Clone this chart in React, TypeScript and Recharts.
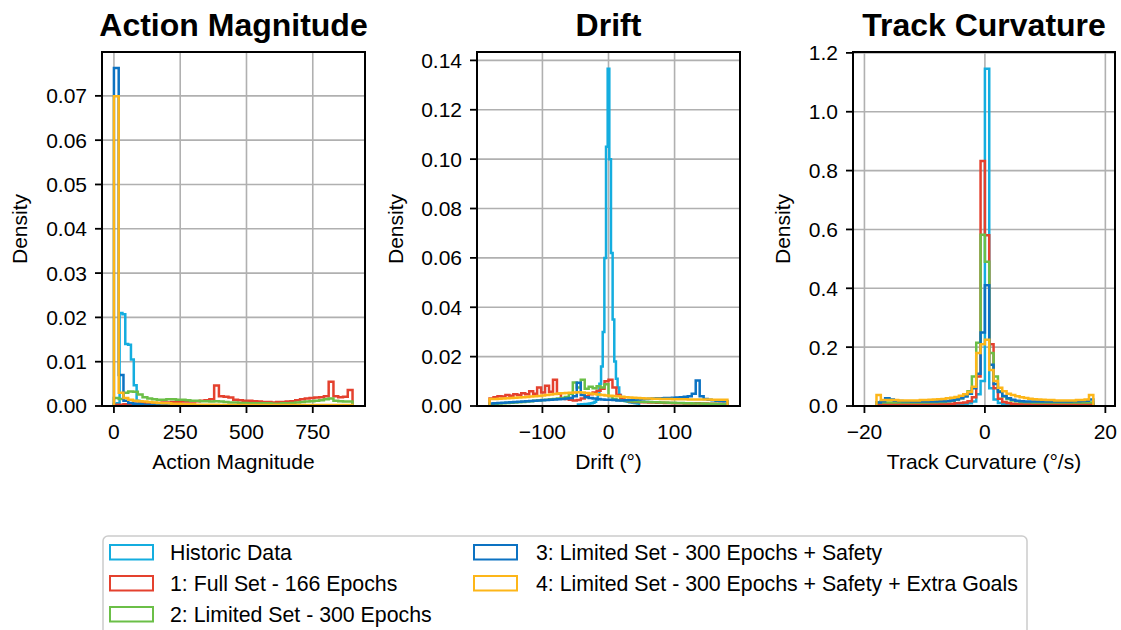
import { LineChart, Line, XAxis, YAxis, CartesianGrid } from "recharts";

const FONT = '"Liberation Sans", Arial, Helvetica, sans-serif';

const seriesNames = [
  "Historic Data",
  "1: Full Set - 166 Epochs",
  "2: Limited Set - 300 Epochs",
  "3: Limited Set - 300 Epochs + Safety",
  "4: Limited Set - 300 Epochs + Safety + Extra Goals",
];
const seriesColors = ["#14ADDF", "#E4412E", "#6BBF47", "#0C72C2", "#FDB619"];

// ---- Action Magnitude (density histograms) ----
const magHistoricStart = 0;
const magHistoricWidth = 10.7;
const magHistoric = [0.0004, 0.0006, 0.021, 0.0207, 0.014, 0.0138, 0.0105, 0.0047, 0.0012, 0.0006, 0.0004, 0.0003, 0.0002, 0.0002, 0.0001, 0.0001];

const magBinStart = 0;
const magBinWidth = 18;
const magFullSet = [
  0.0003, 0.0003, 0.0004, 0.0004, 0.0005, 0.0005, 0.0006, 0.0006, 0.0007, 0.0007,
  0.0008, 0.0008, 0.0009, 0.0009, 0.001, 0.001, 0.001, 0.0011, 0.0012, 0.0013,
  0.0015, 0.0046, 0.0022, 0.0021, 0.0019, 0.0014, 0.0013, 0.0012, 0.0012, 0.0011,
  0.001, 0.0009, 0.0009, 0.0008, 0.0009, 0.0009, 0.001, 0.0011, 0.0013, 0.0015,
  0.0017, 0.0018, 0.0019, 0.002, 0.0022, 0.0055, 0.0022, 0.002, 0.0021, 0.0036,
];
const magLimited = [
  0.0018, 0.0016, 0.003, 0.0033, 0.0032, 0.0026, 0.002, 0.0017, 0.0015, 0.0014,
  0.0014, 0.0015, 0.0015, 0.0014, 0.0014, 0.0013, 0.0012, 0.0012, 0.0011, 0.0011,
  0.001, 0.0011, 0.001, 0.0009, 0.0008, 0.0008, 0.0007, 0.0007, 0.0006, 0.0006,
  0.0006, 0.0006, 0.0006, 0.0005, 0.0005, 0.0006, 0.0006, 0.0007, 0.0008, 0.0009,
  0.001, 0.0011, 0.0012, 0.0013, 0.0015, 0.0017, 0.0012, 0.0011, 0.001, 0.001,
];
const magSafety = [
  0.0763, 0.007, 0.0012, 0.0007, 0.0005, 0.0004, 0.0003, 0.0003, 0.0002, 0.0002,
  0.0002, 0.0001, 0.0001, 0.0001, 0.0001, 0.0001, 0.0001, 0.0001, 0.0001, 0.0001,
  0.0001, 0.0001, 0.0001, 0.0001, 0.0001, 0.0001, 0.0001, 0.0001, 0.0001, 0.0001,
  0.0001, 0.0001, 0.0001, 0.0001, 0.0001, 0.0001, 0.0001, 0.0001, 0.0001, 0.0001,
  0.0001, 0.0001, 0.0001, 0.0001, 0.0001, 0.0001, 0.0001, 0.0001, 0.0001, 0.0001,
];
const magExtraGoals = [
  0.0699, 0.003, 0.0018, 0.0014, 0.0012, 0.0011, 0.001, 0.0009, 0.0008, 0.0007,
  0.0006, 0.0006, 0.0005, 0.0005, 0.0004, 0.0004, 0.0004, 0.0003, 0.0003, 0.0003,
  0.0003, 0.0003, 0.0002, 0.0002, 0.0002, 0.0002, 0.0002, 0.0002, 0.0002, 0.0002,
  0.0002, 0.0002, 0.0002, 0.0002, 0.0002, 0.0002, 0.0002, 0.0002, 0.0002, 0.0002,
  0.0002, 0.0002, 0.0002, 0.0002, 0.0002, 0.0002, 0.0002, 0.0002, 0.0002, 0.0002,
];

// ---- Drift ----
const driftHistoricStart = -46.25;
const driftHistoricWidth = 2.5;
const driftHistoric = [
  0.0006, 0.0006, 0.0007, 0.0007, 0.0008, 0.0008, 0.0009, 0.001, 0.0011, 0.0013,
  0.0017, 0.0025, 0.0045, 0.009, 0.016, 0.03, 0.06, 0.105, 0.1366, 0.1,
  0.062, 0.035, 0.018, 0.011, 0.0075, 0.0045, 0.0032, 0.0026, 0.0022, 0.0019,
  0.0017, 0.0015, 0.0014, 0.0013, 0.0012, 0.0011, 0.001,
];

const driftBinStart = -180;
const driftBinWidth = 6;
const driftFullSet = [
  0.003, 0.0035, 0.004, 0.0038, 0.0045, 0.0042, 0.0048, 0.0045, 0.0052, 0.0048,
  0.006, 0.005, 0.0075, 0.0055, 0.0082, 0.0058, 0.0106, 0.005, 0.003, 0.0028,
  0.0025, 0.0022, 0.0024, 0.003, 0.004, 0.0048, 0.0055, 0.0062, 0.007, 0.01,
  0.0106, 0.0075, 0.0045, 0.003, 0.0022, 0.0018, 0.0016, 0.0016, 0.0015, 0.0015,
  0.0014, 0.0014, 0.0013, 0.0013, 0.0012, 0.0012, 0.0011, 0.0011, 0.0011, 0.001,
  0.001, 0.001, 0.0011, 0.001, 0.001, 0.0009, 0.0009, 0.0009, 0.0009, 0.0008,
];
const driftLimited = [
  0.0008, 0.0009, 0.001, 0.0011, 0.0012, 0.0013, 0.0014, 0.0015, 0.0016, 0.0018,
  0.0019, 0.0021, 0.0022, 0.0024, 0.0025, 0.0027, 0.0028, 0.003, 0.0032, 0.0036,
  0.005, 0.0095, 0.0075, 0.0106, 0.007, 0.0078, 0.0072, 0.008, 0.0075, 0.0088,
  0.004, 0.0028, 0.0024, 0.0022, 0.002, 0.0019, 0.0018, 0.0018, 0.0017, 0.0016,
  0.0016, 0.0015, 0.0015, 0.0014, 0.0014, 0.0013, 0.0013, 0.0012, 0.0012, 0.0011,
  0.0011, 0.001, 0.001, 0.001, 0.0009, 0.0009, 0.0009, 0.0008, 0.0008, 0.0008,
];
const driftSafety = [
  0.001, 0.0011, 0.0012, 0.0013, 0.0014, 0.0015, 0.0016, 0.0017, 0.0018, 0.0019,
  0.002, 0.0021, 0.0022, 0.0023, 0.0024, 0.0025, 0.0026, 0.0027, 0.0028, 0.003,
  0.0032, 0.004, 0.0094, 0.0045, 0.0035, 0.0032, 0.003, 0.0028, 0.0026, 0.0025,
  0.0025, 0.0024, 0.0022, 0.0022, 0.0023, 0.0024, 0.0025, 0.0026, 0.0027, 0.0028,
  0.0029, 0.003, 0.0031, 0.0031, 0.0032, 0.0032, 0.0033, 0.0034, 0.0035, 0.0037,
  0.004, 0.005, 0.0103, 0.004, 0.0028, 0.0025, 0.0023, 0.0021, 0.002, 0.0019,
];
const driftExtraGoals = [
  0.0028, 0.0028, 0.0029, 0.003, 0.0031, 0.0032, 0.0033, 0.0034, 0.0035, 0.0036,
  0.0038, 0.0039, 0.0041, 0.0043, 0.0045, 0.0047, 0.0049, 0.0051, 0.0052, 0.0053,
  0.0054, 0.0055, 0.0056, 0.0055, 0.0053, 0.0051, 0.0049, 0.0047, 0.0045, 0.0043,
  0.0042, 0.0041, 0.0039, 0.0037, 0.0035, 0.0034, 0.0033, 0.0032, 0.0031, 0.003,
  0.003, 0.0029, 0.0029, 0.0028, 0.0028, 0.0028, 0.0027, 0.0027, 0.0027, 0.0027,
  0.0026, 0.0026, 0.0026, 0.0026, 0.0026, 0.0026, 0.0025, 0.0025, 0.0025, 0.0025,
];

// ---- Track Curvature ----
const curvBinStart = -18;
const curvBinWidth = 0.72;
const curvHistoric = [
  0.003, 0.003, 0.003, 0.003, 0.003, 0.003, 0.003, 0.003, 0.003, 0.003,
  0.003, 0.003, 0.003, 0.003, 0.003, 0.003, 0.003, 0.003, 0.003, 0.004,
  0.006, 0.009, 0.015, 0.04, 0.085, 1.146, 0.06, 0.022, 0.01, 0.006,
  0.004, 0.003, 0.003, 0.003, 0.003, 0.003, 0.003, 0.003, 0.003, 0.003,
  0.003, 0.003, 0.003, 0.003, 0.003, 0.003, 0.003, 0.003, 0.003, 0.003,
];
const curvFullSet = [
  0.006, 0.006, 0.006, 0.006, 0.006, 0.006, 0.006, 0.006, 0.006, 0.006,
  0.006, 0.006, 0.006, 0.007, 0.007, 0.007, 0.008, 0.008, 0.009, 0.01,
  0.012, 0.016, 0.03, 0.1, 0.833, 0.58, 0.21, 0.06, 0.025, 0.014,
  0.01, 0.008, 0.007, 0.007, 0.006, 0.006, 0.006, 0.006, 0.006, 0.006,
  0.006, 0.006, 0.006, 0.006, 0.006, 0.006, 0.006, 0.006, 0.006, 0.006,
];
const curvLimited = [
  0.012, 0.012, 0.012, 0.012, 0.012, 0.012, 0.012, 0.012, 0.012, 0.012,
  0.012, 0.012, 0.013, 0.013, 0.014, 0.014, 0.016, 0.018, 0.022, 0.026,
  0.035, 0.05, 0.1, 0.215, 0.582, 0.49, 0.18, 0.1, 0.05, 0.032,
  0.024, 0.019, 0.016, 0.014, 0.013, 0.013, 0.012, 0.012, 0.012, 0.012,
  0.012, 0.012, 0.012, 0.012, 0.012, 0.012, 0.012, 0.012, 0.012, 0.012,
];
const curvSafety = [
  0.012, 0.016, 0.026, 0.022, 0.018, 0.017, 0.016, 0.016, 0.015, 0.015,
  0.015, 0.015, 0.015, 0.015, 0.016, 0.016, 0.017, 0.019, 0.022, 0.026,
  0.032, 0.042, 0.06, 0.11, 0.25, 0.41, 0.14, 0.075, 0.048, 0.034,
  0.026, 0.021, 0.018, 0.016, 0.015, 0.015, 0.015, 0.015, 0.015, 0.015,
  0.015, 0.015, 0.015, 0.015, 0.015, 0.016, 0.016, 0.017, 0.018, 0.022,
];
const curvExtraGoals = [
  0.037, 0.02, 0.02, 0.02, 0.02, 0.019, 0.019, 0.019, 0.019, 0.019,
  0.02, 0.02, 0.021, 0.022, 0.023, 0.024, 0.026, 0.028, 0.031, 0.035,
  0.04, 0.048, 0.065, 0.18, 0.21, 0.225, 0.122, 0.085, 0.062, 0.05,
  0.042, 0.037, 0.033, 0.03, 0.027, 0.025, 0.023, 0.022, 0.021, 0.02,
  0.02, 0.019, 0.019, 0.019, 0.019, 0.019, 0.02, 0.02, 0.022, 0.037,
];

// axis ticks
const magXTicks = [0, 250, 500, 750];
const magYTicks = [0, 0.01, 0.02, 0.03, 0.04, 0.05, 0.06, 0.07];
const driftXTicks = [-100, 0, 100];
const driftYTicks = [0, 0.02, 0.04, 0.06, 0.08, 0.1, 0.12, 0.14];
const curvXTicks = [-20, 0, 20];
const curvYTicks = [0, 0.2, 0.4, 0.6, 0.8, 1.0, 1.2];

// outline of a step histogram (matplotlib histtype="step")
function stepPoints(start: number, width: number, values: number[]) {
  const pts = [{ x: start, y: 0 }];
  values.forEach((v, i) => pts.push({ x: start + i * width, y: v }));
  const end = start + values.length * width;
  pts.push({ x: end, y: values[values.length - 1] });
  pts.push({ x: end, y: 0 });
  return pts;
}

const fmtMinus = (v: number) => (v < 0 ? "\u2212" + Math.abs(v) : String(v));

type PanelProps = {
  left: number;
  top: number;
  w: number;
  h: number;
  xDomain: [number, number];
  xTicks: number[];
  yDomain: [number, number];
  yTicks: number[];
  yDigits: number;
  hists: { x: number; y: number }[][];
};

function Panel({ left, top, w, h, xDomain, xTicks, yDomain, yTicks, yDigits, hists }: PanelProps) {
  const tickStyle = { fontSize: 21, fill: "#000", fontFamily: FONT };
  return (
    <div style={{ position: "absolute", left: left - 100, top: top - 10 }}>
      <LineChart width={w + 108} height={h + 70} margin={{ top: 10, right: 8, bottom: 0, left: 0 }}>
        <CartesianGrid stroke="#b0b0b0" strokeWidth={1.6} />
        <XAxis
          type="number"
          dataKey="x"
          domain={xDomain}
          ticks={xTicks}
          allowDataOverflow
          interval={0}
          height={60}
          axisLine={false}
          tickLine={{ stroke: "#000", strokeWidth: 1.8 }}
          tickSize={7}
          tickMargin={11}
          tick={tickStyle}
          tickFormatter={fmtMinus}
        />
        <YAxis
          type="number"
          domain={yDomain}
          ticks={yTicks}
          allowDataOverflow
          interval={0}
          width={100}
          axisLine={false}
          tickLine={{ stroke: "#000", strokeWidth: 1.8 }}
          tickSize={7}
          tickMargin={8}
          tick={tickStyle}
          tickFormatter={(v: number) => v.toFixed(yDigits)}
        />
        {hists.map((pts, i) => (
          <Line
            key={seriesNames[i]}
            data={pts}
            dataKey="y"
            type="stepAfter"
            stroke={seriesColors[i]}
            strokeWidth={2.5}
            dot={false}
            activeDot={false}
            isAnimationActive={false}
          />
        ))}
      </LineChart>
    </div>
  );
}

const panels = [
  { title: "Action Magnitude", xLabel: "Action Magnitude", left: 102, w: 263, yLabelX: 27 },
  { title: "Drift", xLabel: "Drift (\u00b0)", left: 477, w: 263, yLabelX: 403 },
  { title: "Track Curvature", xLabel: "Track Curvature (\u00b0/s)", left: 853, w: 262, yLabelX: 790 },
];
const TOP = 52;
const H = 354;

export default function App() {
  const magHists = [
    stepPoints(magHistoricStart, magHistoricWidth, magHistoric),
    stepPoints(magBinStart, magBinWidth, magFullSet),
    stepPoints(magBinStart, magBinWidth, magLimited),
    stepPoints(magBinStart, magBinWidth, magSafety),
    stepPoints(magBinStart, magBinWidth, magExtraGoals),
  ];
  const driftHists = [
    stepPoints(driftHistoricStart, driftHistoricWidth, driftHistoric),
    stepPoints(driftBinStart, driftBinWidth, driftFullSet),
    stepPoints(driftBinStart, driftBinWidth, driftLimited),
    stepPoints(driftBinStart, driftBinWidth, driftSafety),
    stepPoints(driftBinStart, driftBinWidth, driftExtraGoals),
  ];
  const curvHists = [
    stepPoints(curvBinStart, curvBinWidth, curvHistoric),
    stepPoints(curvBinStart, curvBinWidth, curvFullSet),
    stepPoints(curvBinStart, curvBinWidth, curvLimited),
    stepPoints(curvBinStart, curvBinWidth, curvSafety),
    stepPoints(curvBinStart, curvBinWidth, curvExtraGoals),
  ];

  const legendCols = [
    { patchX: 110, textX: 170, items: [0, 1, 2] },
    { patchX: 474, textX: 536, items: [3, 4] },
  ];
  const rowY = [552, 583, 614];

  return (
    <div
      style={{
        position: "absolute",
        left: 0,
        top: 0,
        width: 1121,
        height: 630,
        overflow: "hidden",
        background: "#fff",
        fontFamily: FONT,
      }}
    >
      <Panel left={102} top={TOP} w={263} h={H} xDomain={[-45, 947]} xTicks={magXTicks}
        yDomain={[0, 0.0799]} yTicks={magYTicks} yDigits={2} hists={magHists} />
      <Panel left={477} top={TOP} w={263} h={H} xDomain={[-199, 199]} xTicks={driftXTicks}
        yDomain={[0, 0.1434]} yTicks={driftYTicks} yDigits={2} hists={driftHists} />
      <Panel left={853} top={TOP} w={262} h={H} xDomain={[-21.9, 21.6]} xTicks={curvXTicks}
        yDomain={[0, 1.203]} yTicks={curvYTicks} yDigits={1} hists={curvHists} />

      <svg width={1121} height={630} style={{ position: "absolute", left: 0, top: 0, pointerEvents: "none" }}>
        {panels.map((p) => (
          <g key={p.title}>
            <rect x={p.left} y={TOP} width={p.w} height={H} fill="none" stroke="#000" strokeWidth={2} />
            <text x={p.left + p.w / 2} y={36} textAnchor="middle" fontSize={32} fontWeight="bold" fontFamily={FONT} fill="#000">
              {p.title}
            </text>
            <text x={p.left + p.w / 2} y={469} textAnchor="middle" fontSize={21} fontFamily={FONT} fill="#000">
              {p.xLabel}
            </text>
            <text
              x={p.yLabelX}
              y={TOP + H / 2}
              transform={`rotate(-90 ${p.yLabelX} ${TOP + H / 2})`}
              textAnchor="middle"
              fontSize={21}
              fontFamily={FONT}
              fill="#000"
            >
              Density
            </text>
          </g>
        ))}

        <rect x={103} y={536} width={924} height={120} rx={5} fill="#fff" stroke="#cccccc" strokeWidth={1.5} />
        {legendCols.map((col) =>
          col.items.map((si, r) => (
            <g key={seriesNames[si]}>
              <rect x={col.patchX} y={rowY[r] - 7} width={43} height={14.5} fill="#fff" stroke={seriesColors[si]} strokeWidth={2} />
              <text x={col.textX} y={rowY[r] + 7.5} fontSize={21.3} fontFamily={FONT} fill="#000">
                {seriesNames[si]}
              </text>
            </g>
          ))
        )}
      </svg>
    </div>
  );
}
